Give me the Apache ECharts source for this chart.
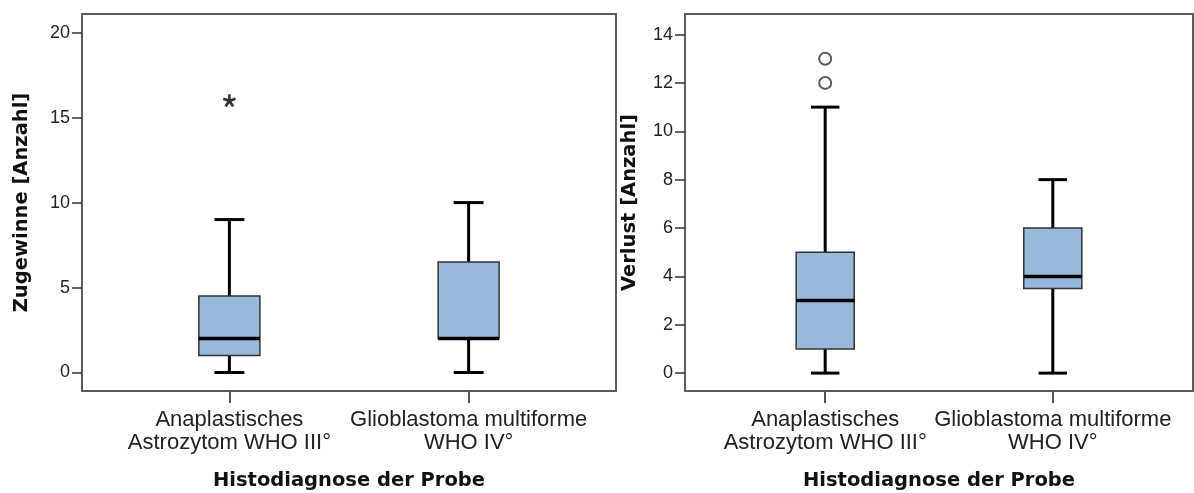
<!DOCTYPE html>
<html>
<head>
<meta charset="utf-8">
<script src="https://cdn.jsdelivr.net/npm/echarts@6/dist/echarts.min.js"></script>
<style>
  html, body { margin: 0; padding: 0; background: #fff; }
  #chart { width: 1194px; height: 493px; }
</style>
</head>
<body>
<div id="chart"></div>
<script>
// Groups on the category axis
const categories = ['Anaplastisches\nAstrozytom WHO III°', 'Glioblastoma multiforme\nWHO IV°'];

// Five-number summaries per group: [lower whisker, Q1, median, Q3, upper whisker]
const gainStats = [
  [0, 1, 2, 4.5, 9],
  [0, 2, 2, 6.5, 10]
];
const lossStats = [
  [0, 1, 3, 5, 11],
  [0, 3.5, 4, 6, 8]
];

// Outliers: [group index, value]
const gainExtremes = [[0, 16]];
const lossOutliers = [[0, 12], [0, 13]];

// Tick labels
const gainTicks = [0, 5, 10, 15, 20];
const lossTicks = [0, 2, 4, 6, 8, 10, 12, 14];

const FONT = '"Liberation Sans", Arial, sans-serif';
const TITLE_FONT = '"DejaVu Sans", Verdana, sans-serif';
const FRAME = '#5c5c5c';
const BOX_FILL = '#97b9dc';

// five-armed asterisk glyph for extreme values
function asteriskPath() {
  const w = 0.2, s = 50;
  let d = '';
  for (let k = 0; k < 5; k++) {
    const a = (-90 + 72 * k) * Math.PI / 180;
    const dx = Math.cos(a), dy = Math.sin(a);
    const px = -dy * w, py = dx * w;
    const pts = [[px, py], [px + dx, py + dy], [-px + dx, -py + dy], [-px, -py]];
    d += 'M' + pts.map(p => ((p[0] + 1) * s).toFixed(2) + ' ' + ((p[1] + 1) * s).toFixed(2)).join('L') + 'Z';
  }
  return 'path://' + d;
}

function boxData(stats) {
  return stats.map((s, i) => [i].concat(s));
}

function renderBox(params, api) {
  const x = api.value(0);
  const lo = api.coord([x, api.value(1)]);
  const q1 = api.coord([x, api.value(2)]);
  const med = api.coord([x, api.value(3)]);
  const q3 = api.coord([x, api.value(4)]);
  const hi = api.coord([x, api.value(5)]);
  const boxW = api.size([0.255, 0])[0];
  const capW = api.size([0.125, 0])[0];
  const cx = lo[0];
  const line = (x1, y1, x2, y2, w) => ({
    type: 'line',
    shape: { x1, y1, x2, y2 },
    style: { stroke: '#000', lineWidth: w }
  });
  return {
    type: 'group',
    children: [
      line(cx, q1[1], cx, lo[1], 3),
      line(cx, q3[1], cx, hi[1], 3),
      line(cx - capW / 2, lo[1], cx + capW / 2, lo[1], 3),
      line(cx - capW / 2, hi[1], cx + capW / 2, hi[1], 3),
      {
        type: 'rect',
        shape: { x: cx - boxW / 2, y: q3[1], width: boxW, height: q1[1] - q3[1] },
        style: { fill: BOX_FILL, stroke: '#333', lineWidth: 1.5 }
      },
      line(cx - boxW / 2, med[1], cx + boxW / 2, med[1], 3.5)
    ]
  };
}

function xAxis(gridIndex) {
  return {
    type: 'value', gridIndex,
    min: -0.616, max: 1.616,
    splitLine: { show: false },
    axisLine: { show: true, onZero: false, lineStyle: { color: FRAME, width: 2 } },
    axisTick: { show: true, customValues: [0, 1], length: 12, lineStyle: { color: '#555', width: 2 } },
    axisLabel: {
      customValues: [0, 1],
      formatter: v => categories[Math.round(v)],
      color: '#222', fontFamily: FONT, fontSize: 22, lineHeight: 23, margin: 17
    },
    name: 'Histodiagnose der Probe',
    nameLocation: 'middle', nameGap: 80,
    nameTextStyle: { fontFamily: TITLE_FONT, fontWeight: 'bold', fontSize: 19.5, color: '#111' }
  };
}

function yAxis(gridIndex, min, max, ticks, name, gap) {
  return {
    type: 'value', gridIndex, min, max,
    splitLine: { show: false },
    axisLine: { show: true, onZero: false, lineStyle: { color: FRAME, width: 2 } },
    axisTick: { show: true, customValues: ticks, length: 10, lineStyle: { color: '#333', width: 1.5 } },
    axisLabel: { customValues: ticks, color: '#222', fontFamily: FONT, fontSize: 18, margin: 12 },
    name,
    nameLocation: 'middle', nameGap: gap,
    nameTextStyle: { fontFamily: TITLE_FONT, fontWeight: 'bold', fontSize: 19.5, color: '#111' }
  };
}

const chart = echarts.init(document.getElementById('chart'), null, { renderer: 'canvas' });
chart.setOption({
  animation: false,
  backgroundColor: '#fff',
  grid: [
    { left: 82, top: 14, width: 534, height: 377, show: true, borderColor: FRAME, borderWidth: 2, backgroundColor: 'transparent', containLabel: false, outerBoundsMode: 'none' },
    { left: 685, top: 14, width: 508, height: 377, show: true, borderColor: FRAME, borderWidth: 2, backgroundColor: 'transparent', containLabel: false, outerBoundsMode: 'none' }
  ],
  xAxis: [xAxis(0), xAxis(1)],
  yAxis: [
    yAxis(0, -1.09, 21.1, gainTicks, 'Zugewinne [Anzahl]', 50),
    yAxis(1, -0.74, 14.85, lossTicks, 'Verlust [Anzahl]', 45)
  ],
  series: [
    {
      type: 'custom', xAxisIndex: 0, yAxisIndex: 0,
      renderItem: renderBox, data: boxData(gainStats),
      encode: { x: 0, y: [1, 2, 3, 4, 5] }
    },
    {
      type: 'scatter', xAxisIndex: 0, yAxisIndex: 0,
      symbol: asteriskPath(), symbolSize: 13,
      itemStyle: { color: '#000' },
      data: gainExtremes
    },
    {
      type: 'custom', xAxisIndex: 1, yAxisIndex: 1,
      renderItem: renderBox, data: boxData(lossStats),
      encode: { x: 0, y: [1, 2, 3, 4, 5] }
    },
    {
      type: 'scatter', xAxisIndex: 1, yAxisIndex: 1,
      symbol: 'circle', symbolSize: 12,
      itemStyle: { color: '#fff', borderColor: '#333', borderWidth: 2 },
      data: lossOutliers
    }
  ]
});
</script>
</body>
</html>
